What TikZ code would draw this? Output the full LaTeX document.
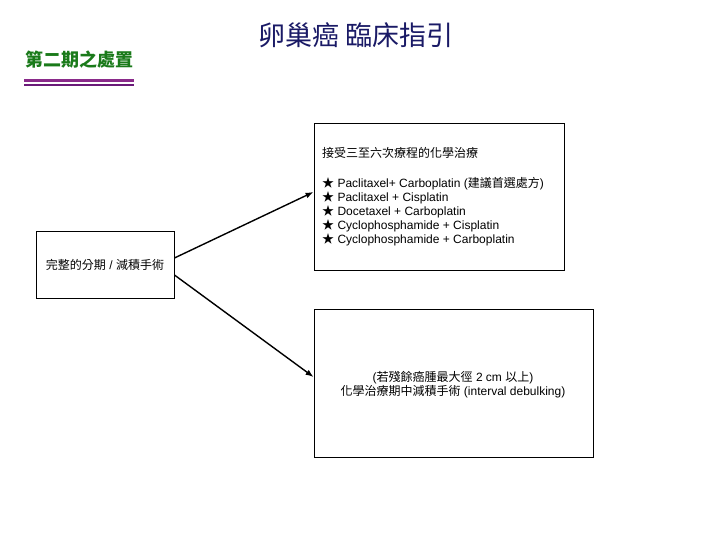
\documentclass[tikz,border=0pt]{standalone}
\usepackage{fontspec}
\setmainfont{Liberation Sans}
\newfontfamily\cjk{Noto Sans CJK TC}
\usetikzlibrary{arrows.meta}
\definecolor{titleblue}{HTML}{1A1A66}
\definecolor{subgreen}{HTML}{1A7A1A}
\definecolor{lineA}{HTML}{8A2A8A}
\definecolor{lineB}{HTML}{6A1A78}
\tikzset{
  boxstyle/.style={draw=black, line width=0.9pt, inner sep=0pt},
  bodytext/.style={font=\fontsize{12}{14}\selectfont, inner sep=0pt},
  arrowstyle/.style={draw=black, line width=1.4pt, -{Latex[length=8pt,width=6pt]}}
}
\begin{document}
\begin{tikzpicture}[x=1pt,y=-1pt]
\useasboundingbox (0,0) rectangle (720,540);
% title
\node[text=titleblue, font=\fontsize{27}{30}\selectfont\cjk, inner sep=0pt] (title) at (356,35) {卵巢癌 臨床指引};
\node[text=subgreen, font=\fontsize{18}{20}\selectfont\cjk\bfseries, inner sep=0pt, anchor=west] (sub) at (25,60) {第二期之處置};
\draw[lineA, line width=2.4pt] (24,80.5) -- (134,80.5);
\draw[lineB, line width=2.4pt] (24,85) -- (134,85);
% boxes
\node[boxstyle, minimum width=250pt, minimum height=147pt] (b1) at (439,196.5) {};
\node[boxstyle, minimum width=138pt, minimum height=67pt] (b2) at (105,264.5) {};
\node[boxstyle, minimum width=279pt, minimum height=148pt] (b3) at (453.5,383) {};
% texts
\node[bodytext, anchor=west] (t1) at (322,153) {\cjk 接受三至六次療程的化學治療};
\node[bodytext, anchor=north west, align=left] (t2) at (322,177) {%
{\cjk ★} Paclitaxel+ Carboplatin ({\cjk 建議首選處方})\\
{\cjk ★} Paclitaxel + Cisplatin\\
{\cjk ★} Docetaxel + Carboplatin\\
{\cjk ★} Cyclophosphamide + Cisplatin\\
{\cjk ★} Cyclophosphamide + Carboplatin};
\node[bodytext] (t3) at (b2.center) {{\cjk 完整的分期} / {\cjk 減積手術}};
\node[bodytext, align=center] (t4) at (453,384.5) {({\cjk 若殘餘癌腫最大徑} 2 cm {\cjk 以上})\\{\cjk 化學治療期中減積手術} (interval debulking)};
% arrows
\draw[arrowstyle] ([yshift=6.5pt]b2.east) -- ([yshift=4.5pt]b1.west);
\draw[arrowstyle] ([yshift=-10.5pt]b2.east) -- ([yshift=6pt]b3.west);
\end{tikzpicture}
\end{document}
